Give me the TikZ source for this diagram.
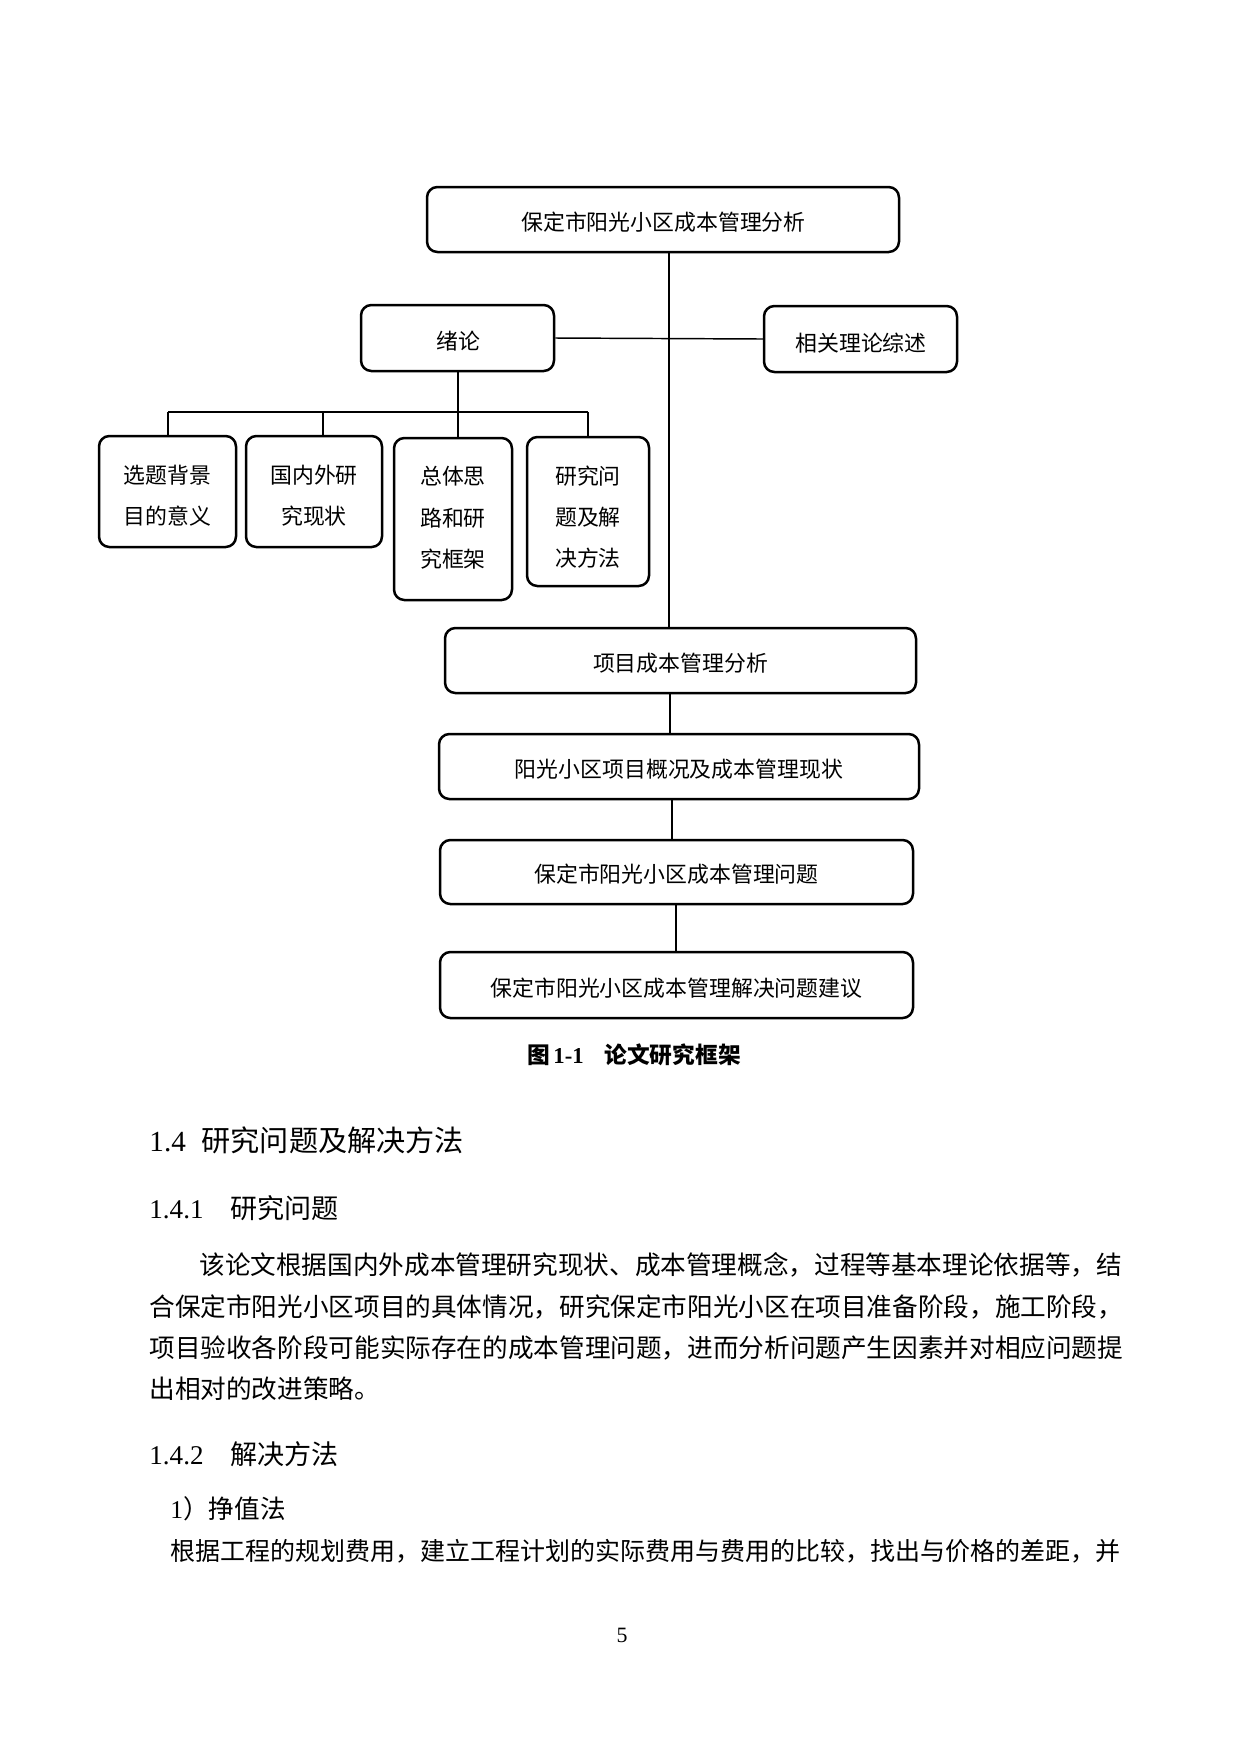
\documentclass[tikz,border=0pt]{standalone}
\usepackage{fontspec}
\setmainfont{Liberation Serif}
\newfontfamily\cjk{Noto Sans CJK SC}
\begin{document}
\begin{tikzpicture}[x=0.48pt,y=-0.48pt,
  box/.style={draw,line width=1.2pt,rounded corners=5pt,inner sep=0pt},
  lbl/.style={inner sep=0pt,align=center,font=\cjk\fontsize{10.5}{19.7}\selectfont},
  link/.style={line width=0.7pt},
  txt/.style={anchor=west,inner sep=0pt},
  body/.style={txt,font=\cjk\fontsize{12.3}{15}\selectfont}]
\useasboundingbox (0,0) rectangle (1240,1754);
% boxes
\node[box,minimum width=472*0.48pt,minimum height=65*0.48pt] (top) at (663,219.5) {};
\node[box,minimum width=193*0.48pt,minimum height=66*0.48pt] (xl) at (457.5,338) {};
\node[box,minimum width=193*0.48pt,minimum height=66*0.48pt] (xg) at (860.5,339) {};
\node[box,minimum width=137*0.48pt,minimum height=111*0.48pt] (c1) at (167.5,491.5) {};
\node[box,minimum width=136*0.48pt,minimum height=111*0.48pt] (c2) at (314,491.5) {};
\node[box,minimum width=118*0.48pt,minimum height=162*0.48pt] (c3) at (453,519) {};
\node[box,minimum width=122*0.48pt,minimum height=149*0.48pt] (c4) at (588,511.5) {};
\node[box,minimum width=471*0.48pt,minimum height=65*0.48pt] (b1) at (680.5,660.5) {};
\node[box,minimum width=480*0.48pt,minimum height=65*0.48pt] (b2) at (679,766.5) {};
\node[box,minimum width=473*0.48pt,minimum height=64*0.48pt] (b3) at (676.5,872) {};
\node[box,minimum width=473*0.48pt,minimum height=66*0.48pt] (b4) at (676.5,985) {};
% box texts
\node[lbl] (ttop) at (663.5,222.3) {保定市阳光小区成本管理分析};
\node[lbl] (txl) at (458,340.7) {绪论};
\node[lbl] (txg) at (861,343) {相关理论综述};
\node[lbl] (tc1) at (167.5,495.4) {选题背景\\目的意义};
\node[lbl] (tc2) at (314,495.4) {国内外研\\究现状};
\node[lbl] (tc3) at (453,517.7) {总体思\\路和研\\究框架};
\node[lbl] (tc4) at (588,517.2) {研究问\\题及解\\决方法};
\node[lbl] (tb1) at (680.5,663.5) {项目成本管理分析};
\node[lbl] (tb2) at (679,769.6) {阳光小区项目概况及成本管理现状};
\node[lbl] (tb3) at (676.5,874.6) {保定市阳光小区成本管理问题};
\node[lbl] (tb4) at (676.5,988.5) {保定市阳光小区成本管理解决问题建议};
% connector coordinates
\coordinate (tx) at (669,0);
\coordinate (bus) at (0,412);
\coordinate (d1) at (168,0);
\coordinate (d2) at (323,0);
\coordinate (d3) at (458,0);
\coordinate (d4) at (588,0);
\coordinate (x12) at (670,0);
\coordinate (x23) at (672,0);
\coordinate (x34) at (676,0);
% connectors
\draw[link] (top.south -| tx) -- (b1.north -| tx);
\draw[link] (xl.east) -- (xg.west);
\draw[link] (xl.south -| d3) -- (bus -| d3);
\draw[link] (bus -| d1) -- (bus -| d4);
\draw[link] (bus -| d1) -- (c1.north -| d1);
\draw[link] (bus -| d2) -- (c2.north -| d2);
\draw[link] (bus -| d3) -- (c3.north -| d3);
\draw[link] (bus -| d4) -- (c4.north -| d4);
\draw[link] (b1.south -| x12) -- (b2.north -| x12);
\draw[link] (b2.south -| x23) -- (b3.north -| x23);
\draw[link] (b3.south -| x34) -- (b4.north -| x34);
% caption
\node[inner sep=0pt] (cap) at (634,1055) {{\cjk\bfseries\fontsize{10.9}{13}\selectfont 图}\,{\bfseries\fontsize{10.9}{13}\selectfont 1-1}\hspace{10pt}{\cjk\bfseries\fontsize{10.9}{13}\selectfont 论文研究框架}};
% headings and text
\node[txt] (h14) at (149,1140) {\fontsize{14}{17}\selectfont\makebox[25pt][l]{1.4}{\cjk 研究问题及解决方法}};
\node[txt] (h141) at (149,1208) {\fontsize{13}{16}\selectfont\makebox[39pt][l]{1.4.1}{\cjk 研究问题}};
\node[body] (l1) at (199,1264.5) {该论文根据国内外成本管理研究现状、成本管理概念，过程等基本理论依据等，结};
\node[body] (l2) at (149,1306.5) {合保定市阳光小区项目的具体情况，研究保定市阳光小区在项目准备阶段，施工阶段，};
\node[body] (l3) at (149,1347.5) {项目验收各阶段可能实际存在的成本管理问题，进而分析问题产生因素并对相应问题提};
\node[body] (l4) at (149,1388.5) {出相对的改进策略。};
\node[txt] (h142) at (149,1454) {\fontsize{13}{16}\selectfont\makebox[39pt][l]{1.4.2}{\cjk 解决方法}};
\node[txt] (m1) at (170,1509) {\fontsize{12.3}{15}\selectfont 1{\cjk ）挣值法}};
\node[body,font=\cjk\fontsize{12}{15}\selectfont] (l5) at (170,1551.5) {根据工程的规划费用，建立工程计划的实际费用与费用的比较，找出与价格的差距，并};
\node[inner sep=0pt] (pg) at (622,1635) {\fontsize{10.5}{12}\selectfont 5};
\end{tikzpicture}
\end{document}
